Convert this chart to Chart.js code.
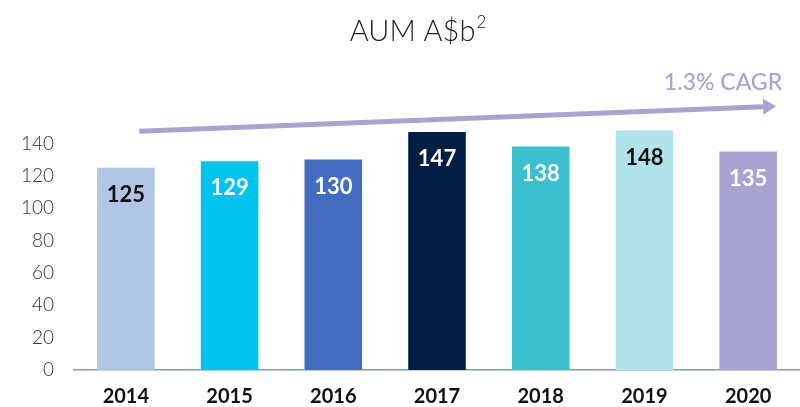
<!DOCTYPE html>
<html>
<head>
<meta charset="utf-8">
<script src="https://cdn.jsdelivr.net/npm/chart.js@4.4.1/dist/chart.umd.min.js"></script>
<style>
  html, body { margin: 0; padding: 0; background: #fff; }
  #wrap { width: 800px; height: 407px; position: relative; }
</style>
</head>
<body>
<div id="wrap"><canvas id="aumChart"></canvas></div>
<script>
// ===== Data =====
const years = ['2014', '2015', '2016', '2017', '2018', '2019', '2020'];
const aum = [125, 129, 130, 147, 138, 148, 135];
const barColours = ['#b0c4e4', '#00c4f0', '#416cbf', '#001e44', '#3cbfce', '#b0e4ea', '#a9a3d2'];
const labelColours = ['#111', '#fff', '#fff', '#fff', '#fff', '#111', '#fff'];
const yTicks = [0, 20, 40, 60, 80, 100, 120, 140];
const titleText = 'AUM A$b';
const titleSup = '2';
const cagrText = '1.3% CAGR';
// trend arrow, in category index / value units
const arrowFrom = { x: 0.13, y: 147.5 };
const arrowTo = { x: 6.27, y: 163 };

const FONT = 'Lato, "Noto Sans", sans-serif';
const LILAC = '#a9a3d2';

// ===== Plugins =====
const titlePlugin = {
    id: 'titlePlugin',
    afterDraw(chart) {
        const ctx = chart.ctx;
        ctx.save();
        ctx.fillStyle = '#222';
        ctx.textBaseline = 'alphabetic';
        ctx.font = `300 29px ${FONT}`;
        const w = ctx.measureText(titleText).width;
        ctx.font = `300 17px ${FONT}`;
        const sw = ctx.measureText(titleSup).width;
        const left = 418 - (w + sw + 1) / 2;
        ctx.font = `300 29px ${FONT}`;
        ctx.textAlign = 'left';
        ctx.fillText(titleText, left, 41);
        ctx.font = `300 17px ${FONT}`;
        ctx.fillText(titleSup, left + w + 1, 28);
        ctx.restore();
    }
};

const valueLabels = {
    id: 'valueLabels',
    afterDatasetsDraw(chart) {
        const ctx = chart.ctx;
        const meta = chart.getDatasetMeta(0);
        ctx.save();
        ctx.font = `700 22px ${FONT}`;
        ctx.textAlign = 'center';
        ctx.textBaseline = 'middle';
        meta.data.forEach((bar, i) => {
            ctx.fillStyle = labelColours[i];
            ctx.fillText(aum[i], bar.x, bar.y + 27);
        });
        ctx.restore();
    }
};

const cagrArrow = {
    id: 'cagrArrow',
    afterDraw(chart) {
        const { ctx, scales: { x, y } } = chart;
        const x0 = x.getPixelForValue(arrowFrom.x), y0 = y.getPixelForValue(arrowFrom.y);
        const x1 = x.getPixelForValue(arrowTo.x), y1 = y.getPixelForValue(arrowTo.y);
        const ang = Math.atan2(y1 - y0, x1 - x0);
        const head = 13;
        ctx.save();
        ctx.strokeStyle = LILAC;
        ctx.fillStyle = LILAC;
        ctx.lineWidth = 5;
        ctx.beginPath();
        ctx.moveTo(x0, y0);
        ctx.lineTo(x1 - head * Math.cos(ang), y1 - head * Math.sin(ang));
        ctx.stroke();
        ctx.beginPath();
        ctx.moveTo(x1, y1);
        ctx.lineTo(x1 - head * Math.cos(ang) + 8 * Math.sin(ang), y1 - head * Math.sin(ang) - 8 * Math.cos(ang));
        ctx.lineTo(x1 - head * Math.cos(ang) - 8 * Math.sin(ang), y1 - head * Math.sin(ang) + 8 * Math.cos(ang));
        ctx.closePath();
        ctx.fill();
        ctx.font = `500 23px ${FONT}`;
        ctx.textAlign = 'right';
        ctx.textBaseline = 'middle';
        ctx.fillText(cagrText, x1 + 6, y1 - 24);
        ctx.restore();
    }
};

// ===== Chart =====
const ctx = document.getElementById('aumChart').getContext('2d');
const aumChart = new Chart(ctx, {
    type: 'bar',
    data: {
        labels: years,
        datasets: [{
            label: 'AUM',
            data: aum,
            backgroundColor: barColours,
            barPercentage: 0.555,
            categoryPercentage: 1
        }]
    },
    options: {
        responsive: true,
        maintainAspectRatio: false,
        animation: false,
        layout: { padding: { top: 111, right: -5, bottom: -17, left: 0 } },
        plugins: {
            legend: { display: false },
            tooltip: { enabled: false },
            title: { display: false }
        },
        scales: {
            x: {
                grid: { display: false, drawTicks: false },
                border: { color: '#8c99a6', width: 1.5 },
                ticks: {
                    color: '#111',
                    padding: 15,
                    font: { family: FONT, size: 20, weight: '700' }
                }
            },
            y: {
                min: 0,
                max: 160,
                grid: { display: false, drawTicks: false },
                border: { display: false },
                afterFit: s => { s.width = 74; },
                afterBuildTicks: s => { s.ticks = yTicks.map(v => ({ value: v })); },
                ticks: {
                    color: '#333',
                    padding: 20,
                    font: { family: FONT, size: 19, weight: '300' }
                }
            }
        }
    },
    plugins: [valueLabels, cagrArrow, titlePlugin]
});
</script>
</body>
</html>
